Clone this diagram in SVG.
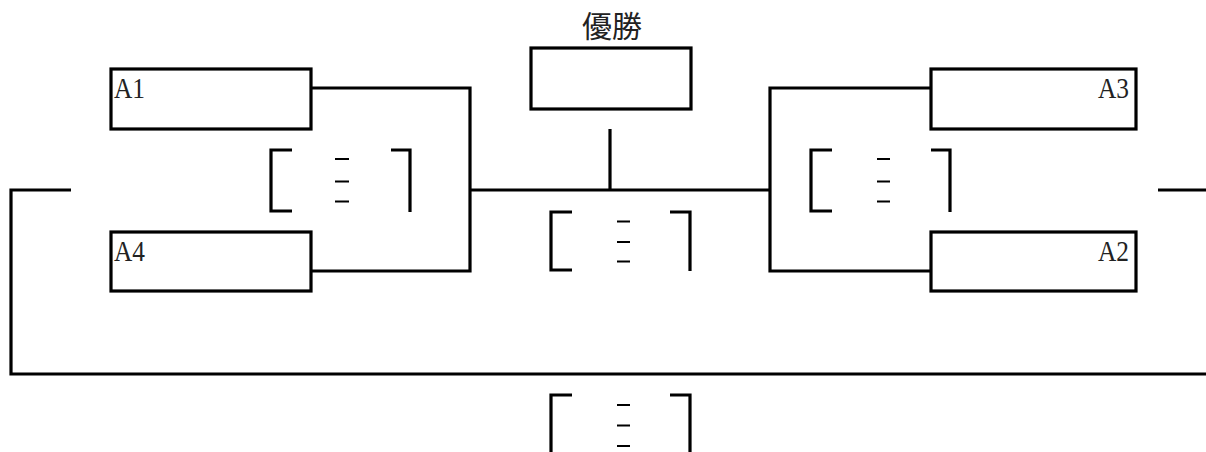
<svg xmlns="http://www.w3.org/2000/svg" width="1206" height="452" viewBox="0 0 1206 452">
<style>
.box{fill:#fff;stroke:#000;stroke-width:3.2}
.ln{fill:none;stroke:#000;stroke-width:3.2}
.dash{fill:none;stroke:#000;stroke-width:2}
.lbl{font-family:"Liberation Serif","Noto Sans CJK JP",serif;font-size:29px;fill:#222}
.ttl{font-family:"Noto Sans CJK JP",sans-serif;font-size:30px;fill:#222}
</style>
<rect width="1206" height="452" fill="#fff"/>
<g id="connectors">
<polyline class="ln" points="311,88 470,88 470,271 311,271"/>
<polyline class="ln" points="930,88 770,88 770,271 930,271"/>
<line class="ln" x1="470" y1="190" x2="770" y2="190"/>
<line class="ln" x1="610" y1="129" x2="610" y2="190"/>
<polyline class="ln" points="71,190 11,190 11,374 1206,374"/>
<line class="ln" x1="1158" y1="190" x2="1206" y2="190"/>
</g>
<g id="node-winner">
<text class="ttl" x="612" y="37" text-anchor="middle">優勝</text>
<rect class="box" x="531" y="48" width="160" height="61"/>
</g>
<g id="node-A1">
<rect class="box" x="111" y="69" width="200" height="60"/>
<text class="lbl" x="114" y="98" textLength="31" lengthAdjust="spacingAndGlyphs">A1</text>
</g>
<g id="node-A4">
<rect class="box" x="111" y="232" width="200" height="59"/>
<text class="lbl" x="114" y="261" textLength="31" lengthAdjust="spacingAndGlyphs">A4</text>
</g>
<g id="node-A3">
<rect class="box" x="931" y="69" width="205" height="60"/>
<text class="lbl" x="1129" y="98" text-anchor="end" textLength="31" lengthAdjust="spacingAndGlyphs">A3</text>
</g>
<g id="node-A2">
<rect class="box" x="931" y="232" width="205" height="59"/>
<text class="lbl" x="1129" y="261" text-anchor="end" textLength="31" lengthAdjust="spacingAndGlyphs">A2</text>
</g>
<g id="bracket-left">
<polyline class="ln" points="292,150 271,150 271,211 292,211"/>
<polyline class="ln" points="391,150 410,150 410,212"/>
<path class="dash" d="M335,159h14M335,181.5h14M335,201.5h14"/>
</g>
<g id="bracket-right">
<polyline class="ln" points="832,150 811,150 811,211 832,211"/>
<polyline class="ln" points="931,150 950,150 950,212"/>
<path class="dash" d="M877,159h13M877,181.5h13M877,201.5h13"/>
</g>
<g id="bracket-center">
<polyline class="ln" points="572,212 551,212 551,270 572,270"/>
<polyline class="ln" points="670,212 690,212 690,271"/>
<path class="dash" d="M617,221.5h13M617,242h13M617,261.5h13"/>
</g>
<g id="bracket-bottom">
<polyline class="ln" points="572,395 551,395 551,452"/>
<polyline class="ln" points="670,395 690,395 690,452"/>
<path class="dash" d="M617,405h13M617,425.5h13M617,446h13"/>
</g>
</svg>
